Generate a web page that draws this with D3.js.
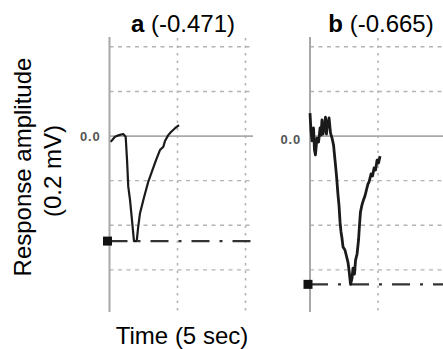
<!DOCTYPE html>
<html><head><meta charset="utf-8">
<script src="https://cdn.jsdelivr.net/npm/d3@7"></script>
<style>html,body{margin:0;padding:0;background:#fff;}svg{display:block;}</style>
</head><body>
<script>
// ---- data (time in sec, amplitude in mV) ----
const panelLabels = ["a", "b"];
const panelValues = ["(-0.471)", "(-0.665)"];
const minValues = [-0.471, -0.665];
const traceA_t = [0.09,0.40,0.70,1.01,1.19,1.29,1.38,1.51,1.63,1.80,2.00,2.10,2.24,2.54,2.85,3.13,3.42,3.71,3.96,4.08,4.32,4.52,4.82,5.11];
const traceA_v = [-0.026,-0.003,0.004,0.009,-0.003,-0.108,-0.227,-0.287,-0.362,-0.471,-0.471,-0.413,-0.347,-0.274,-0.205,-0.157,-0.108,-0.063,-0.048,-0.022,0.004,0.018,0.035,0.049];
const traceB_t = [0.00,0.07,0.15,0.26,0.33,0.40,0.51,0.63,0.74,0.81,0.88,0.96,1.07,1.14,1.21,1.29,1.40,1.51,1.62,1.73,1.84,1.95,2.06,2.13,2.21,2.28,2.35,2.43,2.57,2.68,2.79,2.87,2.98,3.09,3.16,3.27,3.35,3.46,3.57,3.64,3.71,3.82,3.93,4.04,4.15,4.26,4.34,4.49,4.60,4.71,4.82,4.93,5.04,5.15];
const traceB_v = [0.103,0.027,-0.022,0.036,-0.063,-0.085,-0.009,-0.027,0.036,0.004,0.072,0.009,0.049,0.085,0.009,0.054,0.081,0.013,-0.009,-0.040,-0.108,-0.179,-0.265,-0.309,-0.386,-0.430,-0.457,-0.498,-0.511,-0.538,-0.565,-0.601,-0.665,-0.637,-0.592,-0.619,-0.556,-0.529,-0.466,-0.399,-0.341,-0.309,-0.287,-0.269,-0.242,-0.215,-0.206,-0.170,-0.179,-0.143,-0.152,-0.108,-0.121,-0.090];
const yGridTicks = [0.4, 0.2, -0.2, -0.4, -0.6];
const xGridTicks = [5, 10];
const zeroLabel = "0.0";
const yTitle1 = "Response amplitude";
const yTitle2 = "(0.2 mV)";
const xTitle = "Time (5 sec)";

const W = 443, H = 349;
const svg = d3.select("body").append("svg").attr("width", W).attr("height", H)
  .style("font-family", "'Liberation Sans', Arial, sans-serif");

const y = d3.scaleLinear().domain([-0.78, 0.44]).range([310, 37.9]);

const panels = [
  {x0: 109.5, x1: 253, tMax: (253-109.5)/13.6, t: traceA_t, v: traceA_v, min: minValues[0], label: panelLabels[0], val: panelValues[0], titleX: 183, labelDy: 0, sw: 2.2},
  {x0: 310, x1: 443, tMax: (443-310)/13.6, t: traceB_t, v: traceB_v, min: minValues[1], label: panelLabels[1], val: panelValues[1], titleX: 381, labelDy: 3, sw: 2.8}
];

panels.forEach(p => {
  const x = d3.scaleLinear().domain([0, p.tMax]).range([p.x0, p.x1]);
  const g = svg.append("g");
  // horizontal dashed grid
  g.selectAll(".hg").data(yGridTicks).join("line")
    .attr("x1", x(0)).attr("x2", x(p.tMax)).attr("y1", d => y(d)).attr("y2", d => y(d))
    .attr("stroke", "#b4b4b4").attr("stroke-width", 1.4).attr("stroke-dasharray", "4,4.5");
  // vertical dotted grid
  g.selectAll(".vg").data(xGridTicks.filter(d => d <= p.tMax)).join("line")
    .attr("x1", d => x(d)).attr("x2", d => x(d)).attr("y1", y(0.44)).attr("y2", y(-0.78) + 4)
    .attr("stroke", "#b4b4b4").attr("stroke-width", 1.6).attr("stroke-dasharray", "2.5,5");
  // zero line
  g.append("line").attr("x1", x(0)).attr("x2", x(p.tMax)).attr("y1", y(0)).attr("y2", y(0))
    .attr("stroke", "#aaaaaa").attr("stroke-width", 1.7);
  // vertical axis
  g.append("line").attr("x1", x(0)).attr("x2", x(0)).attr("y1", y(0.44) - 1).attr("y2", y(-0.78) + 2)
    .attr("stroke", "#a8a8a8").attr("stroke-width", 2);
  // zero label
  g.append("text").attr("x", x(0) - 9).attr("y", y(0) + p.labelDy).attr("dy", "0.35em")
    .attr("text-anchor", "end").attr("font-size", 13).attr("font-weight", "bold")
    .attr("fill", "#555").attr("letter-spacing", "0.8px").text(zeroLabel);
  // min dash-dot line
  g.append("line").attr("x1", x(0)).attr("x2", x(p.tMax)).attr("y1", y(p.min)).attr("y2", y(p.min))
    .attr("stroke", "#333").attr("stroke-width", 2.2).attr("stroke-dasharray", "18,10,3,10");
  g.append("rect").attr("x", x(0) - 6.5).attr("y", y(p.min) - 4.5).attr("width", 9).attr("height", 9)
    .attr("fill", "#111");
  // trace
  const pts = p.t.map((t, i) => [t, p.v[i]]);
  g.append("path").datum(pts)
    .attr("d", d3.line().x(d => x(d[0])).y(d => y(d[1])))
    .attr("fill", "none").attr("stroke", "#1a1a1a").attr("stroke-width", p.sw).attr("stroke-linejoin", "round");
  // title
  const tt = g.append("text").attr("x", p.titleX).attr("y", 32).attr("text-anchor", "middle")
    .attr("font-size", 24).attr("fill", "#000");
  tt.append("tspan").attr("font-weight", "bold").text(p.label);
  tt.append("tspan").text(" " + p.val);
});

// axis titles
svg.append("text").attr("transform", "translate(31,167) rotate(-90)").attr("text-anchor", "middle")
  .attr("font-size", 24).text(yTitle1);
svg.append("text").attr("transform", "translate(61,171) rotate(-90)").attr("text-anchor", "middle")
  .attr("font-size", 24).text(yTitle2);
svg.append("text").attr("x", 182).attr("y", 344).attr("text-anchor", "middle")
  .attr("font-size", 24).text(xTitle);
</script>
</body></html>
